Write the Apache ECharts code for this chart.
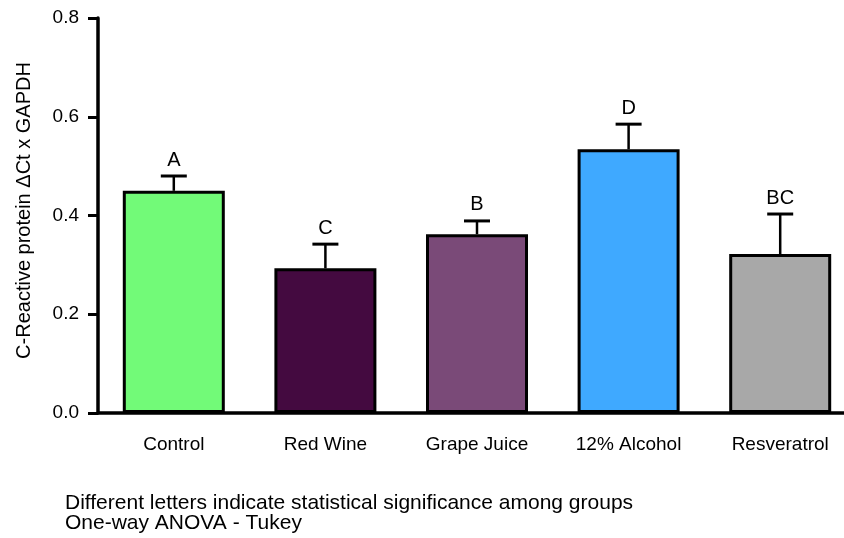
<!DOCTYPE html>
<html>
<head>
<meta charset="utf-8">
<script src="https://cdn.jsdelivr.net/npm/echarts@6/dist/echarts.min.js"></script>
<style>
  html, body { margin: 0; padding: 0; background: #fff; overflow: hidden; }
  /* canvas is a little wider than the page so the last category is cut at the edge */
  #chart { width: 856px; height: 538px; }
</style>
</head>
<body>
<div id="chart"></div>
<script>
// Groups and measured C-reactive protein expression (mean and SEM)
const groups = ['Control', 'Red Wine', 'Grape Juice', '12% Alcohol', 'Resveratrol'];
const means = [0.450, 0.293, 0.362, 0.534, 0.322];
const sem = [0.030, 0.049, 0.027, 0.051, 0.081];
const letters = ['A', 'C', 'B', 'D', 'BC'];
const barColors = ['#72fa78', '#440a40', '#7a4a78', '#3fa9ff', '#a8a8a8'];
const yTicks = [0, 0.2, 0.4, 0.6, 0.8];
const footnote = ['Different letters indicate statistical significance among groups', 'One-way ANOVA - Tukey'];

const FONT = '"Liberation Sans", Arial, sans-serif';

const chart = echarts.init(document.getElementById('chart'));

const errorData = means.map((m, i) => [i, m, m + sem[i], letters[i]]);

chart.setOption({
  animation: false,
  backgroundColor: '#fff',
  title: {
    text: footnote.join('\n'),
    left: 60,
    top: 488,
    textStyle: { fontFamily: FONT, fontSize: 21, fontWeight: 'normal', color: '#000', lineHeight: 20 }
  },
  grid: { left: 98, top: 18, bottom: 125, right: 0 },
  xAxis: {
    type: 'category',
    data: groups,
    axisLine: { lineStyle: { color: '#000', width: 3.5 } },
    axisTick: { alignWithLabel: true, length: 9, lineStyle: { color: '#000', width: 3 } },
    axisLabel: { color: '#000', fontFamily: FONT, fontSize: 19, margin: 22 }
  },
  yAxis: {
    type: 'value',
    min: yTicks[0],
    max: yTicks[yTicks.length - 1],
    interval: 0.2,
    name: 'C-Reactive protein \u0394Ct x GAPDH',
    nameLocation: 'middle',
    nameRotate: 90,
    nameGap: 64,
    nameTextStyle: { color: '#000', fontFamily: FONT, fontSize: 20, padding: [0, 0, 0, 10] },
    splitLine: { show: false },
    axisLine: { show: true, lineStyle: { color: '#000', width: 3.5 } },
    axisTick: { show: true, length: 10, lineStyle: { color: '#000', width: 3 } },
    axisLabel: {
      color: '#000', fontFamily: FONT, fontSize: 19, margin: 19,
      formatter: v => v.toFixed(1)
    }
  },
  series: [
    {
      type: 'bar',
      barWidth: 102,
      data: means.map((m, i) => ({
        value: m,
        itemStyle: { color: barColors[i], borderColor: '#000', borderWidth: 3 }
      })),
      z: 2
    },
    {
      // SEM whiskers with significance letters above
      type: 'custom',
      data: errorData,
      z: 3,
      renderItem: function (params, api) {
        const i = api.value(0);
        const base = api.coord([i, api.value(1)]);
        const top = api.coord([i, api.value(2)]);
        const half = 13;
        return {
          type: 'group',
          children: [
            {
              type: 'line',
              shape: { x1: base[0], y1: base[1], x2: top[0], y2: top[1] },
              style: { stroke: '#000', lineWidth: 2.5 }
            },
            {
              type: 'line',
              shape: { x1: top[0] - half, y1: top[1], x2: top[0] + half, y2: top[1] },
              style: { stroke: '#000', lineWidth: 3 }
            },
            {
              type: 'text',
              x: top[0],
              y: top[1] - 6,
              style: {
                text: letters[params.dataIndex],
                fill: '#000',
                font: '20px ' + FONT,
                align: 'center',
                verticalAlign: 'bottom'
              }
            }
          ]
        };
      }
    }
  ]
});
</script>
</body>
</html>
